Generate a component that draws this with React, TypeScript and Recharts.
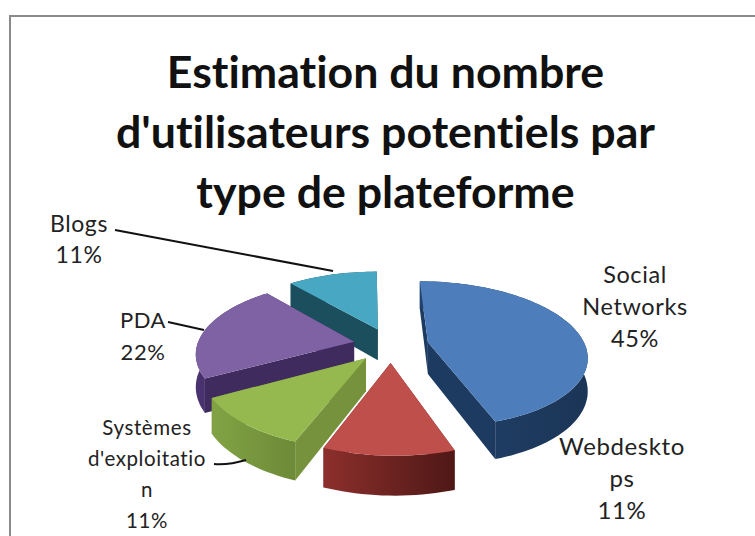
import { PieChart, Pie } from "recharts"

// clockwise from the top, as in the picture
const CATEGORIES = ["Social Networks", "Webdesktops", "Systèmes d'exploitation", "PDA", "Blogs"]
const VALUES = [45, 11, 11, 22, 11]
const LABEL_LINES = [["Social", "Networks"], ["Webdeskto", "ps"], ["Systèmes", "d'exploitatio", "n"], ["PDA"], ["Blogs"]]
const TITLE_LINES = ["Estimation du nombre", "d'utilisateurs potentiels par", "type de plateforme"]

const TOP_COLORS = ["#4d7ebb", "#bf4f4b", "#95b84f", "#7f62a4", "#48a8c4"]
const WALL_COLORS = ["#1d3a60", "#6f2422", "#76923c", "#3f2b5e", "#1b4f5e"]
const RIM_LEFT = ["#21426c", "#8c2f2c", "#82a344", "#4a3370", "#1b4f5e"]
const RIM_RIGHT = ["#1b3556", "#4e1816", "#6d8a38", "#3a2856", "#1b4f5e"]

const LABEL_X = [635, 622, 147, 143, 79]
const LABEL_Y = [283, 455, 435, 328, 232]
const LABEL_STEP = [32, 32, 31, 32, 31]
const LABEL_SIZE = [23.5, 24, 20.5, 22, 23]
const LEADERS = [
  "",
  "",
  "M214 464 C226 465 236 463 246 460",
  "M168 322 L204 330",
  "M115 230 L333 271",
]

// pie is viewed tilted and exploded, so map its angles onto a ground plane
const TILT = 0.456
const PERSPECTIVE = 0.16
const EXPLODE = 0.24
const DEPTH = 32
const SHEAR = 3.5

type Pt = { x: number; y: number; w: number }

function slicePoint(cx: number, cy: number, r: number, mid: number, radius: number, deg: number): Pt {
  const m = (mid * Math.PI) / 180
  const a = (deg * Math.PI) / 180
  const u = EXPLODE * Math.cos(m) + radius * Math.cos(a)
  const v = EXPLODE * Math.sin(m) + radius * Math.sin(a)
  const w = 1 / (1 + PERSPECTIVE * v)
  return { x: cx + r * u * w - SHEAR * v * w, y: cy - r * TILT * v * w, w }
}

const toPath = (pts: Pt[]) => "M" + pts.map((p) => `${p.x.toFixed(1)} ${p.y.toFixed(1)}`).join("L") + "Z"
const lower = (p: Pt): Pt => ({ ...p, y: p.y + DEPTH * p.w })

function Slice3D(props: any) {
  const { cx, cy, outerRadius, startAngle, endAngle, midAngle, name, payload } = props
  const i = CATEGORIES.indexOf(name ?? payload?.name)
  const arc: Pt[] = []
  const steps = Math.ceil(Math.abs(endAngle - startAngle) / 2)
  for (let s = 0; s <= steps; s++) {
    const deg = startAngle + ((endAngle - startAngle) * s) / steps
    arc.push(slicePoint(cx, cy, outerRadius, midAngle, 1, deg))
  }
  const apex = slicePoint(cx, cy, outerRadius, midAngle, 0, 0)
  const first = arc[0]
  const last = arc[arc.length - 1]
  const rim = [...arc, ...arc.map(lower).reverse()]
  return (
    <g>
      <defs>
        <linearGradient id={`rim-${i}`} x1="0" x2="1" y1="0" y2="0">
          <stop offset="0%" stopColor={RIM_LEFT[i]} />
          <stop offset="100%" stopColor={RIM_RIGHT[i]} />
        </linearGradient>
      </defs>
      <path d={toPath([apex, first, lower(first), lower(apex)])} fill={WALL_COLORS[i]} />
      <path d={toPath([apex, last, lower(last), lower(apex)])} fill={WALL_COLORS[i]} />
      <path d={toPath(rim)} fill={`url(#rim-${i})`} />
      <path d={toPath([apex, ...arc])} fill={TOP_COLORS[i]} />
    </g>
  )
}

function SliceLabel(props: any) {
  const i = CATEGORIES.indexOf(props.name ?? props.payload?.name)
  const lines = [...LABEL_LINES[i], `${VALUES[i]}%`]
  return (
    <g>
      {LEADERS[i] && <path d={LEADERS[i]} fill="none" stroke="#111" strokeWidth={2} />}
      <text
        textAnchor="middle"
        fontFamily="Lato, sans-serif"
        fontSize={LABEL_SIZE[i]}
        letterSpacing={0.6}
        fill="#222"
        style={{ fontVariantLigatures: "none" }}
      >
        {lines.map((line, k) => (
          <tspan key={k} x={LABEL_X[i]} y={LABEL_Y[i] + k * LABEL_STEP[i]}>
            {line}
          </tspan>
        ))}
      </text>
    </g>
  )
}

// reversed so the far slices are painted first
const tableau = CATEGORIES.map((name, i) => ({ name, value: VALUES[i] })).reverse()

export default function App() {
  return (
    <div style={{ position: "absolute", left: 0, top: 0, width: 755, height: 536, overflow: "hidden", background: "#fff" }}>
      <div
        style={{
          position: "absolute",
          left: 9,
          top: 15,
          width: 760,
          height: 540,
          border: "2px solid #8a8a8a",
          boxSizing: "border-box",
        }}
      />
      <PieChart width={755} height={536} margin={{ top: 0, right: 0, bottom: 0, left: 0 }} style={{ position: "absolute" }}>
        <text
          textAnchor="middle"
          fontFamily="Lato, sans-serif"
          fontWeight={700}
          fontSize={44.7}
          fill="#111"
          style={{ fontVariantLigatures: "none" }}
        >
          {TITLE_LINES.map((line, k) => (
            <tspan key={k} x={385.5} y={88 + k * 60}>
              {line}
            </tspan>
          ))}
        </text>
        <Pie
          data={tableau}
          dataKey="value"
          nameKey="name"
          cx={391}
          cy={345}
          outerRadius={157}
          startAngle={90}
          endAngle={450}
          stroke="none"
          shape={Slice3D}
          label={SliceLabel}
          labelLine={false}
          isAnimationActive={false}
        />
      </PieChart>
    </div>
  )
}
